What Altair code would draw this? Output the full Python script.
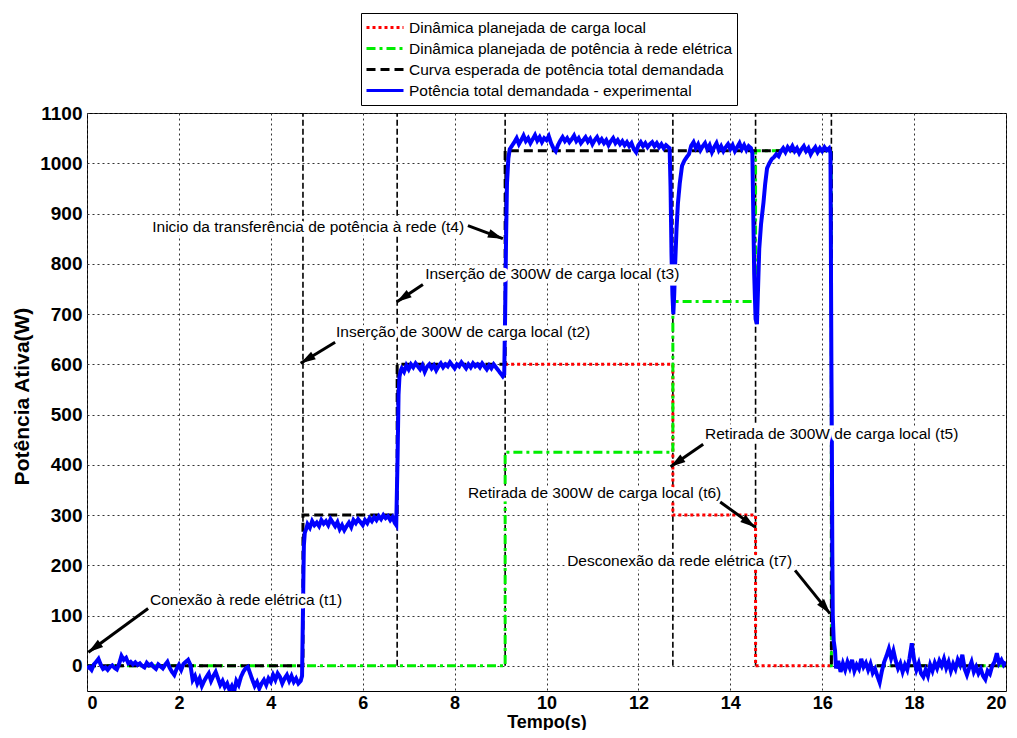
import math
import altair as alt
import pandas as pd

# ---------------- data ----------------
names = ["Dinâmica planejada de carga local",
         "Dinâmica planejada de potência à rede elétrica",
         "Curva esperada de potência total demandada",
         "Potência total demandada - experimental"]
colors = ["#ff0000", "#00ee00", "#000000", "#0000ff"]
dashes = [[3, 3], [9, 4, 3, 4], [9, 5], [1, 0]]

red_t = [9.1, 12.75, 12.75, 14.55, 14.55, 16.2]
red_p = [600, 600, 300, 300, 0, 0]
green_t = [0, 9.1, 9.1, 12.75, 12.75, 14.55, 14.55, 16.2, 16.2, 20]
green_p = [0, 0, 425, 425, 725, 725, 1025, 1025, 0, 0]
black_t = [0, 4.7, 4.7, 6.75, 6.75, 9.1, 9.1, 16.2, 16.2, 20]
black_p = [0, 0, 300, 300, 600, 600, 1025, 1025, 0, 0]
event_t = [4.7, 6.75, 9.1, 12.75, 14.55, 16.2]

blue_t = [
    0.00, 0.05, 0.10, 0.15, 0.20, 0.25, 0.30, 0.35, 0.40, 0.45, 0.50, 0.55, 0.60, 0.65, 0.70, 0.75,
    0.80, 0.85, 0.90, 0.95, 1.00, 1.05, 1.10, 1.15, 1.20, 1.25, 1.30, 1.35, 1.40, 1.45, 1.50, 1.55,
    1.60, 1.65, 1.70, 1.75, 1.80, 1.85, 1.90, 1.95, 2.00, 2.05, 2.10, 2.15, 2.20, 2.25,
    2.30, 2.35, 2.40, 2.45, 2.50, 2.55, 2.60, 2.65, 2.70, 2.75, 2.80, 2.85, 2.90, 2.95, 3.00, 3.05,
    3.10, 3.15, 3.20, 3.25, 3.30, 3.35, 3.40, 3.45, 3.50, 3.55, 3.60, 3.65, 3.70, 3.75, 3.80, 3.85,
    3.90, 3.95, 4.00, 4.05, 4.10, 4.15, 4.20, 4.25, 4.30, 4.35, 4.40, 4.45, 4.50, 4.55, 4.60, 4.65, 4.68,
    4.70, 4.71, 4.72, 4.74, 4.78,
    4.80, 4.85, 4.90, 4.95, 5.00, 5.05, 5.10, 5.15, 5.20, 5.25, 5.30, 5.35, 5.40, 5.45, 5.50, 5.55,
    5.60, 5.65, 5.70, 5.75, 5.80, 5.85, 5.90, 5.95, 6.00, 6.05, 6.10, 6.15, 6.20, 6.25, 6.30, 6.35,
    6.40, 6.45, 6.50, 6.55, 6.60, 6.65, 6.70, 6.73,
    6.76, 6.78, 6.80, 6.83,
    6.85, 6.90, 6.95, 7.00, 7.05, 7.10, 7.15, 7.20, 7.25, 7.30, 7.35, 7.40, 7.45, 7.50, 7.55, 7.60,
    7.65, 7.70, 7.75, 7.80, 7.85, 7.90, 7.95, 8.00, 8.05, 8.10, 8.15, 8.20, 8.25, 8.30, 8.35, 8.40,
    8.45, 8.50, 8.55, 8.60, 8.65, 8.70, 8.75, 8.80, 8.85, 8.90, 8.95, 9.00, 9.05, 9.08,
    9.10, 9.12, 9.14, 9.17, 9.20, 9.25,
    9.30, 9.35, 9.40, 9.45, 9.50, 9.55, 9.60, 9.65, 9.70, 9.75, 9.80, 9.85, 9.90, 9.95, 10.00, 10.05,
    10.10, 10.15, 10.20, 10.25, 10.30, 10.35, 10.40, 10.45, 10.50, 10.55, 10.60, 10.65, 10.70, 10.75,
    10.80, 10.85, 10.90, 10.95, 11.00, 11.05, 11.10, 11.15, 11.20, 11.25, 11.30, 11.35, 11.40, 11.45,
    11.50, 11.55, 11.60, 11.65, 11.70, 11.75, 11.80, 11.85, 11.90, 11.95, 12.00, 12.05, 12.10, 12.15,
    12.20, 12.25, 12.30, 12.35, 12.40, 12.45, 12.50, 12.55, 12.60, 12.65, 12.68,
    12.70, 12.72, 12.74, 12.76, 12.78, 12.80, 12.83, 12.86, 12.90, 12.95, 13.00, 13.05, 13.10, 13.15, 13.20,
    13.25, 13.30, 13.35, 13.40, 13.45, 13.50, 13.55, 13.60, 13.65, 13.70, 13.75, 13.80, 13.85, 13.90,
    13.95, 14.00, 14.05, 14.10, 14.15, 14.20, 14.25, 14.30, 14.35, 14.40, 14.45, 14.48,
    14.50, 14.52, 14.55, 14.58, 14.60, 14.63, 14.67, 14.72, 14.76, 14.80, 14.85, 14.90, 14.95, 15.00,
    15.05, 15.10, 15.15, 15.20, 15.25, 15.30, 15.35, 15.40, 15.45, 15.50, 15.55, 15.60, 15.65, 15.70,
    15.75, 15.80, 15.85, 15.90, 15.95, 16.00, 16.05, 16.10, 16.15, 16.18,
    16.20, 16.21, 16.22, 16.23, 16.25, 16.28,
    16.30, 16.35, 16.40, 16.45, 16.50, 16.55, 16.60, 16.65, 16.70, 16.75, 16.80, 16.85, 16.90, 16.95,
    17.00, 17.05, 17.10, 17.15, 17.20, 17.25, 17.30, 17.35, 17.40, 17.45, 17.50, 17.55, 17.60, 17.65,
    17.70, 17.75, 17.80, 17.85, 17.90, 17.95, 18.00, 18.05, 18.10, 18.15, 18.20, 18.25, 18.30, 18.35,
    18.40, 18.45, 18.50, 18.55, 18.60, 18.65, 18.70, 18.75, 18.80, 18.85, 18.90, 18.95, 19.00, 19.05,
    19.10, 19.15, 19.20, 19.25, 19.30, 19.35, 19.40, 19.45, 19.50, 19.55, 19.60, 19.65, 19.70, 19.75,
    19.80, 19.85, 19.90, 19.95, 20.00,
]
blue_p = [
    -5, -2, -8, 3, 8, 14, 2, -6, -3, -8, -2, 1, -4, -7, 4, 20,
    12, 16, 5, 8, 3, 7, 2, 5, 0, -3, 6, 1, 4, -2, -6, 3,
    -1, -5, 2, 8, -4, -12, -18, -6, 2, -8, 4, 8, 12, 2,
    -28, -20, -35, -25, -40, -30, -22, -15, -30, -20, -12, -25, -38, -30, -42, -35,
    -48, -40, -52, -30, -38, -22, -12, -5, -2, -15, -28, -40, -32, -45, -35, -28,
    -38, -25, -32, -18, -28, -15, -22, -35, -25, -18, -30, -20, -32, -25, -35, -30, -20,
    110, 180, 240, 265, 275,
    282, 275, 288, 280, 285, 278, 290, 283, 288, 280, 292, 285, 278, 286, 272, 280,
    270, 278, 285, 276, 290, 284, 292, 286, 280, 290, 284, 294, 288, 296, 290, 298,
    292, 300, 294, 298, 290, 296, 284, 280,
    420, 540, 575, 588,
    592, 585, 598, 590, 600, 594, 602, 596, 590, 598, 585, 595, 600, 592, 598, 588,
    596, 602, 594, 600, 596, 604, 598, 592, 600, 596, 604, 598, 592, 600, 594, 602,
    596, 600, 594, 602, 596, 590, 598, 592, 600, 594, 588, 582, 576, 580,
    700, 850, 960, 1010, 1028, 1035,
    1042, 1050, 1038, 1046, 1055, 1044, 1050, 1040, 1048, 1056, 1045, 1052, 1042, 1050, 1046, 1054,
    1040, 1030, 1024, 1036, 1045, 1052, 1044, 1050, 1042, 1048, 1055, 1044, 1050, 1040,
    1046, 1052, 1043, 1049, 1038, 1046, 1052, 1042, 1048, 1040, 1046, 1036, 1044, 1050,
    1040, 1046, 1038, 1044, 1036, 1042, 1034, 1040, 1028, 1022, 1036, 1042, 1034, 1040,
    1032, 1038, 1042, 1034, 1040, 1032, 1038, 1030, 1036, 1032, 1030,
    950, 820, 740, 700, 740, 800, 870, 920, 960, 995, 1005, 1012, 1018, 1035, 1042,
    1030, 1038, 1026, 1034, 1040, 1028, 1036, 1022, 1032, 1040, 1026, 1034, 1024, 1032,
    1038, 1028, 1036, 1024, 1032, 1040, 1028, 1036, 1026, 1034, 1030, 1020,
    900, 780, 690, 680, 740, 830, 880, 920, 960, 990, 1000, 1008, 1012, 1018,
    1014, 1024, 1030, 1022, 1032, 1026, 1034, 1024, 1030, 1020, 1028, 1034, 1024, 1030,
    1018, 1026, 1032, 1022, 1030, 1024, 1032, 1026, 1030, 1020,
    600, 450, 230, 100, 50, 30,
    -5, 10, -12, 5, -8, 8, -4, 12, -10, 2, -6, 14, -2, 6,
    -8, 4, -14, -6, -20, -33, -10, 8, 20, 34, 15, 30, 10, -5,
    5, -12, 2, -8, 15, 45, 12, -8, 5, -15, -22, -8, -20, 2,
    -10, 6, -5, 10, 0, 14, -4, 8, -10, 4, -6, 12, 2, 22,
    -6, -18, -4, 8, -12, -2, -15, -6, -20, -27, -10, -16, 0, 8,
    25, 5, 12, 2, 8,
]

ann_text = ["Conexão à rede elétrica (t1)",
            "Inserção de 300W de carga local (t2)",
            "Inserção de 300W de carga local (t3)",
            "Inicio da transferência de potência à rede (t4)",
            "Retirada de 300W de carga local (t5)",
            "Retirada de 300W de carga local (t6)",
            "Desconexão da rede elétrica (t7)"]
ann_x = [1.37, 5.42, 7.36, 1.42, 13.45, 8.29, 10.45]
ann_y = [132, 664, 779, 874, 461, 344, 208]
arrow_x0 = [1.33, 5.40, 7.31, 8.29, 13.41, 13.78, 15.41]
arrow_y0 = [114, 644, 759, 876, 441, 326, 190]
arrow_x1 = [0.03, 4.65, 6.74, 9.05, 12.70, 14.54, 16.17]
arrow_y1 = [27, 602, 724, 850, 396, 276, 104]

# ---------------- layout ----------------
PW, PH = 919, 578
XD = [0, 20]
YD = [-50, 1100]
FONT = "Liberation Sans"

xs = alt.Scale(domain=XD, nice=False, zero=False)
ys = alt.Scale(domain=YD, nice=False, zero=False)

legend = alt.Legend(orient="none", legendX=274, legendY=-100, title=None,
                    symbolType="stroke", symbolSize=1369, symbolStrokeWidth=3,
                    clipHeight=21, rowPadding=0, labelOffset=4, labelLimit=600,
                    labelFont=FONT, labelFontSize=15.5, labelColor="black",
                    strokeColor="black", fillColor="white", padding=4, cornerRadius=0)

def series_df(t, p, idx):
    return pd.DataFrame({"t": t, "p": p, "serie": names[idx], "o": list(range(len(t)))})

def line_layer(df, width):
    return alt.Chart(df).mark_line(strokeWidth=width, strokeCap="butt", clip=True).encode(
        x=alt.X("t:Q", scale=xs,
                axis=alt.Axis(title="Tempo(s)", values=list(range(0, 21, 2)), labelPadding=3,
                              labelFontSize=18, titleBaseline="alphabetic", titleY=36,
                              titleFontSize=18)),
        y=alt.Y("p:Q", scale=ys,
                axis=alt.Axis(title="Potência Ativa(W)", values=list(range(0, 1101, 100)),
                              format="d", labelPadding=5, labelFontSize=19, titleBaseline="middle",
                              titleX=-65, titleY=283, titleFontSize=21)),
        color=alt.Color("serie:N", scale=alt.Scale(domain=names, range=colors), legend=legend),
        strokeDash=alt.StrokeDash("serie:N", scale=alt.Scale(domain=names, range=dashes), legend=legend),
        order="o:Q",
    )

ev_df = pd.DataFrame({"t": event_t, "y0": 0, "y1": 1100})
events = alt.Chart(ev_df).mark_rule(color="black", strokeWidth=1.6, strokeDash=[6, 3]).encode(
    x=alt.X("t:Q", scale=xs), y=alt.Y("y0:Q", scale=ys), y2="y1:Q")

red = line_layer(series_df(red_t, red_p, 0), 3)
green = line_layer(series_df(green_t, green_p, 1), 3)
black = line_layer(series_df(black_t, black_p, 2), 3)
blue = line_layer(series_df(blue_t, blue_p, 3), 4)

# arrows
angles = []
for x0, y0, x1, y1 in zip(arrow_x0, arrow_y0, arrow_x1, arrow_y1):
    dx = (x1 - x0) * PW / (XD[1] - XD[0])
    dy = -(y1 - y0) * PH / (YD[1] - YD[0])
    angles.append(math.degrees(math.atan2(dx, -dy)) % 360)
arr_df = pd.DataFrame({"x0": arrow_x0, "y0": arrow_y0, "x1": arrow_x1, "y1": arrow_y1, "ang": angles})
shafts = alt.Chart(arr_df).mark_rule(color="black", strokeWidth=3).encode(
    x=alt.X("x0:Q", scale=xs), y=alt.Y("y0:Q", scale=ys), x2="x1:Q", y2="y1:Q")
heads = alt.Chart(arr_df).mark_point(shape="M0,0L0.3,1L-0.3,1Z", filled=True, color="black",
                                     size=900, opacity=1).encode(
    x=alt.X("x1:Q", scale=xs), y=alt.Y("y1:Q", scale=ys),
    angle=alt.Angle("ang:Q", scale=None))

ann_df = pd.DataFrame({"x": ann_x, "y": ann_y, "txt": ann_text})
halo = alt.Chart(ann_df).mark_text(align="left", baseline="middle", font=FONT,
                                   fontSize=15.5, stroke="white", strokeWidth=7, fill="white").encode(
    x=alt.X("x:Q", scale=xs), y=alt.Y("y:Q", scale=ys), text="txt:N")
labels = alt.Chart(ann_df).mark_text(align="left", baseline="middle", font=FONT,
                                     fontSize=15.5, color="black").encode(
    x=alt.X("x:Q", scale=xs), y=alt.Y("y:Q", scale=ys), text="txt:N")

chart = alt.layer(events, red, green, black, blue, halo, labels, shafts, heads).properties(
    width=PW, height=PH, autosize="none",
    padding={"left": 79, "top": 105, "right": 3, "bottom": 39},
).configure_view(stroke="black", strokeWidth=1).configure_axis(
    grid=True, gridColor="#333333", gridDash=[2, 3], gridWidth=1, gridOpacity=1,
    domain=False, ticks=False,
    labelFont=FONT, labelFontWeight="bold", labelColor="black",
    titleFont=FONT, titleFontWeight="bold", titleColor="black",
)

chart.save("out.html", embed_options={"renderer": "svg", "actions": False})
